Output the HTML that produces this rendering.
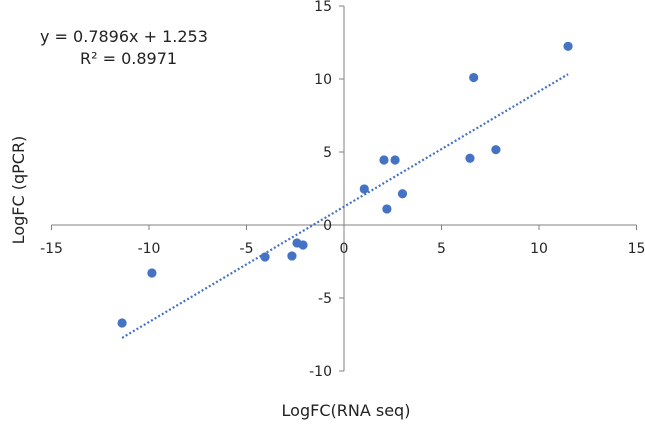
<!DOCTYPE html>
<html><head><meta charset="utf-8"><style>
body{margin:0;background:#fff;}
svg text{font-family:"DejaVu Sans","Liberation Sans",sans-serif;}
</style></head><body>
<svg width="645" height="423" viewBox="0 0 645 423">
<g id="axes"></g><g id="marks"></g>
<text x="40" y="42" font-size="16" fill="#222">y = 0.7896x + 1.253</text>
<text x="80" y="64" font-size="16" fill="#222">R² = 0.8971</text>
<text x="346" y="416" font-size="16" fill="#222" text-anchor="middle">LogFC(RNA seq)</text>
<text transform="translate(24,190) rotate(-90)" font-size="16" fill="#222" text-anchor="middle">LogFC (qPCR)</text>
</svg>
<script>
const xs=[-11.38,-9.85,-4.05,-2.67,-2.41,-2.1,1.04,2.05,2.2,2.62,3.0,6.46,6.65,7.79,11.49];
const ys=[-6.71,-3.29,-2.19,-2.12,-1.23,-1.37,2.47,4.45,1.1,4.45,2.14,4.57,10.1,5.16,12.24];
const xTicks=[-15,-10,-5,0,5,10,15];
const yTicks=[-10,-5,0,5,10,15];
const slope=0.7896, intercept=1.253;
const X=v=>344+v*19.5, Y=v=>225-v*14.6;
const NS='http://www.w3.org/2000/svg';
const axes=document.getElementById('axes'), marks=document.getElementById('marks');
function mk(tag,attrs,parent){const e=document.createElementNS(NS,tag);for(const k in attrs)e.setAttribute(k,attrs[k]);parent.appendChild(e);return e;}
let xa=mk('line',{x1:X(-15),x2:X(15),y1:Y(0),y2:Y(0),stroke:'#808080','stroke-width':1},axes);


let ya=mk('line',{x1:X(0),x2:X(0),y1:Y(15),y2:Y(-10),stroke:'#808080','stroke-width':1},axes);


xTicks.forEach(t=>{
  mk('line',{x1:X(t),x2:X(t),y1:Y(0),y2:Y(0)+5,stroke:'#808080'},axes);
  const tx=mk('text',{x:X(t),y:Y(0)+28,'font-size':14,fill:'#262626','text-anchor':'middle'},axes);
  tx.textContent=t;
  
  
});
yTicks.forEach(t=>{
  mk('line',{x1:X(0)-5,x2:X(0),y1:Y(t),y2:Y(t),stroke:'#808080'},axes);
  const tx=mk('text',{x:X(0)-12,y:Y(t)+5,'font-size':14,fill:'#262626','text-anchor':'end'},axes);
  tx.textContent=t;
  
  
});
const xmin=Math.min(...xs), xmax=Math.max(...xs);
const tl=mk('line',{x1:X(xmin),y1:Y(slope*xmin+intercept),x2:X(xmax),y2:Y(slope*xmax+intercept),stroke:'#4472C4','stroke-width':2.2,'stroke-dasharray':'2 2.2'},marks);


xs.forEach((x,i)=>{
  const c=mk('circle',{cx:X(x),cy:Y(ys[i]),r:4.6,fill:'#4472C4'},marks);
  
  
});
</script>
</body></html>
